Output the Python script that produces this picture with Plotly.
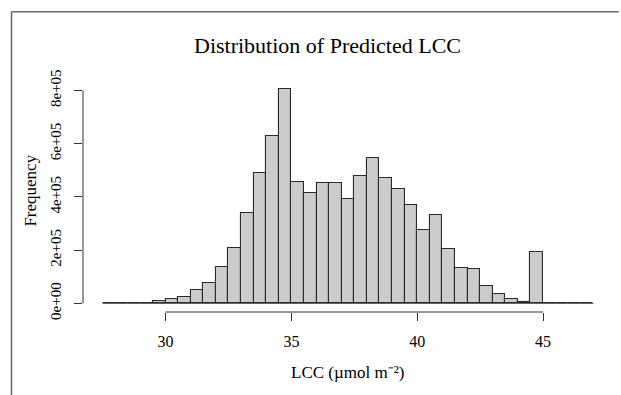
import plotly.graph_objects as go

# ---- data ----
bin_start = 27.5
bin_width = 0.5
counts = [0, 0, 0, 1000, 9000, 16000, 25000, 50000, 78000, 136000, 208000,
          338000, 491000, 628000, 807000, 456000, 414000, 454000, 451000,
          394000, 479000, 546000, 470000, 431000, 369000, 275000, 331000,
          205000, 134000, 129000, 67000, 35600, 18000, 5600, 194000, 1500,
          0, 0, 0]
x_ticks = [30, 35, 40, 45]
y_ticks = [0, 200000, 400000, 600000, 800000]
y_tick_text = ["0e+00", "2e+05", "4e+05", "6e+05", "8e+05"]
title_text = "Distribution of Predicted LCC"
x_title = "LCC (µmol m⁻²)"
y_title = "Frequency"

breaks = [bin_start + i * bin_width for i in range(len(counts) + 1)]
centers = [b + bin_width / 2 for b in breaks[:-1]]

# ---- layout geometry (pixels) ----
W, H = 621, 395
L, R, T, B = 82.6, 613.4, 79.5, 312.3
pw, ph = R - L, B - T

def px(xp):
    return (xp - L) / pw

def py(yp):
    return (B - yp) / ph

xr = breaks[0] - 0.04 * (breaks[-1] - breaks[0])
xr2 = breaks[-1] + 0.04 * (breaks[-1] - breaks[0])
ymax = max(counts)
yr = [-0.04 * ymax, 1.04 * ymax]

FONT = "Liberation Serif, Times New Roman, serif"

fig = go.Figure()
fig.add_trace(go.Scatter(x=[breaks[0], breaks[-1]], y=[0, 0], mode="lines",
                         line=dict(color="#555555", width=1), hoverinfo="skip",
                         showlegend=False))
fig.add_trace(go.Bar(x=centers, y=counts, width=bin_width,
                     marker=dict(color="#cccccc", line=dict(color="#2a2a2a", width=1.1)),
                     showlegend=False))

fig.update_layout(
    width=W, height=H,
    margin=dict(l=L, r=W - R, t=T, b=H - B, pad=0),
    paper_bgcolor="white", plot_bgcolor="white",
    font=dict(family=FONT, color="black", size=16),
    bargap=0,
    xaxis=dict(range=[xr, xr2], showgrid=False, zeroline=False, showline=False,
               tickmode="array", tickvals=x_ticks, ticks="outside", ticklen=8,
               tickcolor="#333333", tickwidth=1, tickfont=dict(size=16, family=FONT),
               ticklabelstandoff=7),
    yaxis=dict(range=yr, showgrid=False, zeroline=False, showline=False,
               tickmode="array", tickvals=y_ticks, ticktext=y_tick_text,
               ticks="outside", ticklen=8, tickcolor="#333333", tickwidth=1,
               tickangle=-90, tickfont=dict(size=15, family=FONT),
               ticklabelstandoff=7),
    shapes=[
        dict(type="line", xref="x", yref="paper", x0=x_ticks[0], x1=x_ticks[-1],
             y0=0, y1=0, line=dict(color="#333333", width=1)),
        dict(type="line", xref="paper", yref="y", x0=0, x1=0,
             y0=y_ticks[0], y1=y_ticks[-1], line=dict(color="#333333", width=1)),
        dict(type="line", xref="paper", yref="paper", x0=px(11), x1=px(619),
             y0=py(11), y1=py(11), line=dict(color="#666666", width=1.5)),
        dict(type="line", xref="paper", yref="paper", x0=px(11), x1=px(11),
             y0=py(11), y1=py(396), line=dict(color="#666666", width=1.5)),
    ],
    annotations=[
        dict(text=title_text, xref="paper", yref="paper", x=px(327.5), y=py(45),
             xanchor="center", yanchor="middle", showarrow=False,
             font=dict(size=22, family=FONT)),
        dict(text=x_title, xref="paper", yref="paper", x=px(347.5), y=py(373),
             xanchor="center", yanchor="middle", showarrow=False,
             font=dict(size=17, family=FONT)),
        dict(text=y_title, xref="paper", yref="paper", x=px(30), y=py(190),
             xanchor="center", yanchor="middle", showarrow=False, textangle=-90,
             font=dict(size=17, family=FONT)),
    ],
)

fig.write_html("out.html")
